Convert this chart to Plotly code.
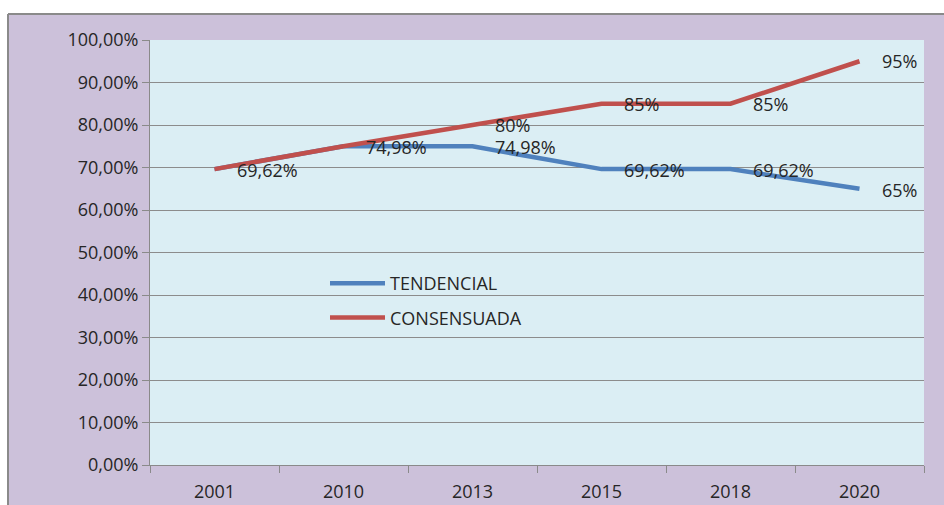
import plotly.graph_objects as go

years = ["2001", "2010", "2013", "2015", "2018", "2020"]
tendencial = [0.6962, 0.7498, 0.7498, 0.6962, 0.6962, 0.65]
consensuada = [0.6962, 0.7498, 0.80, 0.85, 0.85, 0.95]
tend_labels = ["69,62%", "74,98%", "74,98%", "69,62%", "69,62%", "65%"]
cons_labels = ["69,62%", "74,98%", "80%", "85%", "85%", "95%"]

FONT = "Open Sans"
TXT = "#262626"
BLUE = "#4F81BD"
RED = "#C0504D"

fig = go.Figure()
fig.add_trace(go.Scatter(x=years, y=tendencial, mode="lines", name="TENDENCIAL",
                         line=dict(color=BLUE, width=4.5), legendgroup="a"))
fig.add_trace(go.Scatter(x=years, y=consensuada, mode="lines", name="CONSENSUADA",
                         line=dict(color=RED, width=4.5), legendgroup="b"))

annotations = []
for i, y in enumerate(years):
    # category index used as x so numeric-looking names are not read as positions
    annotations.append(dict(x=i, y=tendencial[i], text=tend_labels[i], showarrow=False,
                            xanchor="left", yanchor="middle", xshift=20, yshift=-1,
                            font=dict(family=FONT, size=18, color=TXT)))
    if cons_labels[i] != tend_labels[i]:
        annotations.append(dict(x=i, y=consensuada[i], text=cons_labels[i], showarrow=False,
                                xanchor="left", yanchor="middle", xshift=20, yshift=0,
                                font=dict(family=FONT, size=18, color=TXT)))

W, H = 944, 505
L, R, T, B = 150, 20, 40, 40
pw, ph = W - L - R, H - T - B

def to_px_x(xp):
    return (xp - L) / pw

def to_px_y(yp):
    return 1 - (yp - T) / ph

shapes = [
    dict(type="rect", xref="paper", yref="paper", x0=to_px_x(-5), x1=to_px_x(W + 5),
         y0=to_px_y(14), y1=to_px_y(-5), fillcolor="white", line=dict(width=0), layer="below"),
    dict(type="rect", xref="paper", yref="paper", x0=to_px_x(-5), x1=to_px_x(8),
         y0=to_px_y(H + 5), y1=to_px_y(-5), fillcolor="white", line=dict(width=0), layer="below"),
    dict(type="line", xref="paper", yref="paper", x0=to_px_x(8), x1=to_px_x(W + 5),
         y0=to_px_y(14), y1=to_px_y(14), line=dict(color="#8A8A8A", width=2)),
    dict(type="line", xref="paper", yref="paper", x0=to_px_x(8), x1=to_px_x(8),
         y0=to_px_y(14), y1=to_px_y(H + 5), line=dict(color="#8A8A8A", width=2)),
]

fig.update_layout(
    width=W, height=H,
    margin=dict(l=L, r=R, t=T, b=B, autoexpand=False),
    paper_bgcolor="#CCC1DA",
    plot_bgcolor="#DBEEF4",
    separators=",.",
    font=dict(family=FONT, size=18, color=TXT),
    showlegend=True,
    legend=dict(x=to_px_x(325), y=to_px_y(265), xanchor="left", yanchor="top",
                bgcolor="rgba(0,0,0,0)", borderwidth=0, tracegroupgap=8,
                itemwidth=55, font=dict(family=FONT, size=18, color=TXT)),
    annotations=annotations,
    shapes=shapes,
    xaxis=dict(type="category", range=[-0.5, len(years) - 0.5], showgrid=False, showline=True,
               linecolor="#8A8A8A", linewidth=1, automargin=False,
               ticks="outside", tickson="boundaries", ticklen=7, tickcolor="#8A8A8A",
               ticklabelstandoff=10,
               tickfont=dict(family=FONT, size=18, color=TXT), zeroline=False),
    yaxis=dict(range=[0, 1], dtick=0.1, tickformat=".2%", showgrid=True, gridcolor="#8C8C8C",
               gridwidth=1, showline=True, linecolor="#8A8A8A", linewidth=1, ticks="outside",
               ticklen=7, tickcolor="#8A8A8A", zeroline=False, automargin=False,
               tickfont=dict(family=FONT, size=18, color=TXT)),
)

fig.write_html("out.html", config={"displayModeBar": False},
               post_script="document.body.style.margin='0';")
